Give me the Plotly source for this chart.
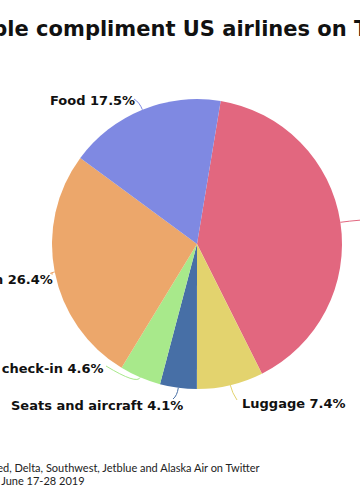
import math
import plotly.graph_objects as go

# ---- data ----
categories = ["Customer service", "Luggage", "Seats and aircraft", "Online check-in", "Flight operation", "Food"]
shares = [40.0, 7.4, 4.1, 4.6, 26.4, 17.5]
colors = ["#E2677F", "#E3D36E", "#476FA6", "#A8E98B", "#ECA76B", "#7F89E2"]
title_text = "What people compliment US airlines on Twitter"
source_lines = [
    "Source: Tweets mentioning American, United, Delta, Southwest, Jetblue and Alaska Air on Twitter",
    "Tweets collected June 17-28 2019",
]

W, H = 360, 500
CX, CY, R = 197, 244, 145
ROT = 9.4


def px(x):
    return x / W


def py(y):
    return 1 - y / H


fig = go.Figure()
fig.add_trace(go.Pie(
    labels=categories, values=shares, sort=False, direction="clockwise",
    rotation=ROT, marker=dict(colors=colors, line=dict(width=0)),
    textinfo="none", hoverinfo="label+percent", showlegend=False,
    domain=dict(x=[(CX - R) / W, (CX + R) / W], y=[1 - (CY + R) / H, 1 - (CY - R) / H]),
))

# label placement (style): side, label anchor x, label y
label_pos = [
    ("left", 364, 219),
    ("left", 240, 403),
    ("right", 185, 405),
    ("right", 106, 368),
    ("right", 55, 279),
    ("right", 137, 101),
]
conn_end = [
    (362, 220),
    (237, 400),
    (173, 399),
    (106, 366),
    (53, 274),
    (134, 99),
]

shapes = []
annotations = []
total = sum(shares)
cum = 0.0
for i, (cat, v) in enumerate(zip(categories, shares)):
    mid = ROT + (cum + v / 2) / total * 360
    cum += v
    a = math.radians(mid)
    ex0, ey0 = CX + R * math.sin(a), CY - R * math.cos(a)
    qx, qy = CX + (R + 8) * math.sin(a), CY - (R + 8) * math.cos(a)
    ex, ey = conn_end[i]
    shapes.append(dict(type="path", xref="x", yref="y",
                       path=f"M {ex0:.1f},{ey0:.1f} Q {qx:.1f},{qy:.1f} {ex:.1f},{ey:.1f}",
                       line=dict(color=colors[i], width=1)))
    side, lx, ly = label_pos[i]
    annotations.append(dict(
        x=px(lx), y=py(ly), xref="paper", yref="paper", showarrow=False,
        xanchor="left" if side == "left" else "right", yanchor="middle",
        text=f"{cat} {v:.1f}%",
        font=dict(family="DejaVu Sans", size=13, color="#111111", weight="bold"),
    ))

annotations.append(dict(
    x=px(-123), y=py(29), xref="paper", yref="paper", showarrow=False,
    xanchor="left", yanchor="middle", text=title_text,
    font=dict(family="DejaVu Sans", size=21, color="#111111", weight="bold"),
))
annotations.append(dict(
    x=px(-209), y=py(467), xref="paper", yref="paper", showarrow=False,
    xanchor="left", yanchor="middle", text=source_lines[0],
    font=dict(family="Lato", size=11, color="#222222"),
))
annotations.append(dict(
    x=px(-84), y=py(480), xref="paper", yref="paper", showarrow=False,
    xanchor="left", yanchor="middle", text=source_lines[1],
    font=dict(family="Lato", size=11, color="#222222"),
))

fig.update_layout(
    width=W, height=H, margin=dict(l=0, r=0, t=0, b=0),
    paper_bgcolor="white", plot_bgcolor="white",
    xaxis=dict(range=[0, W], visible=False, fixedrange=True),
    yaxis=dict(range=[H, 0], visible=False, fixedrange=True),
    shapes=shapes, annotations=annotations,
)
fig.write_html("out.html")
